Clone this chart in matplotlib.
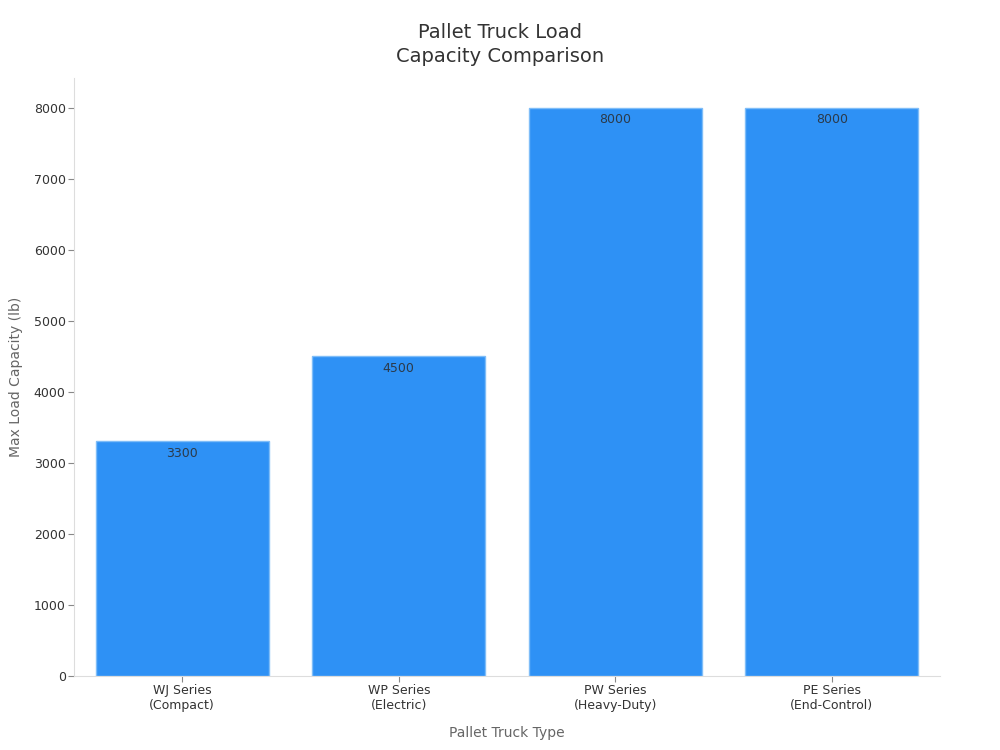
import numpy as np
import matplotlib.pyplot as plt

categories = ["WJ Series\n(Compact)", "WP Series\n(Electric)",
              "PW Series\n(Heavy-Duty)", "PE Series\n(End-Control)"]
capacity = [3300, 4500, 8000, 8000]
yticks = [0, 1000, 2000, 3000, 4000, 5000, 6000, 7000, 8000]

fig = plt.figure(figsize=(10, 7.5), dpi=100)
ax = fig.add_axes([0.074, 0.099, 0.866, 0.797])

x = np.arange(len(categories))
bars = ax.bar(x, capacity, width=0.8, color="#2E91F5",
              edgecolor="#7FBDF8", linewidth=1)

for b, v in zip(bars, capacity):
    ax.annotate(str(v), (b.get_x() + b.get_width() / 2, v),
                xytext=(0, -4), textcoords="offset points",
                ha="center", va="top", fontsize=9, color="#2b3a4a")

ax.set_xlim(-0.5, 3.5)
ax.set_ylim(0, 8420)
ax.set_xticks(x)
ax.set_xticklabels(categories)
ax.set_yticks(yticks)

for s in ["top", "right"]:
    ax.spines[s].set_visible(False)
for s in ["left", "bottom"]:
    ax.spines[s].set_color("#dddddd")
ax.tick_params(colors="#888888", labelcolor="#333333", labelsize=9,
               length=4, pad=2)

ax.set_xlabel("Pallet Truck Type", fontsize=10, color="#666666", labelpad=10)
ax.set_ylabel("Max Load Capacity (lb)", fontsize=10, color="#666666",
              labelpad=8)
fig.text(0.5, 0.97, "Pallet Truck Load\nCapacity Comparison", ha="center",
         va="top", fontsize=14, color="#333333", linespacing=1.35)

fig.savefig("out.png", dpi=100, facecolor="white")
